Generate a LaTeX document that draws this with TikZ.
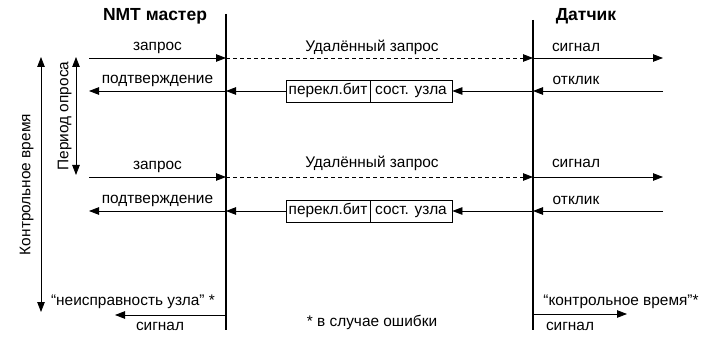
\documentclass[tikz,border=0pt]{standalone}
\usepackage{fontspec}
\setmainfont{Liberation Sans}
\usetikzlibrary{arrows.meta,positioning}

\begin{document}
\begin{tikzpicture}[x=1pt,y=-1pt,
    every node/.style={font=\fontsize{15.4}{17}\selectfont, inner sep=1pt},
    msg/.style={line width=0.8pt,-{Triangle[length=10pt,width=7.5pt]}},
    remote/.style={msg,dash pattern=on 4pt off 3pt},
    span/.style={line width=0.8pt,{Triangle[length=10pt,width=7.5pt]}-{Triangle[length=10pt,width=7.5pt]}},
    life/.style={line width=2.4pt},
    cell/.style={draw,line width=0.8pt,minimum height=22pt,inner sep=0pt,text height=11pt,text depth=3.5pt}]
    \useasboundingbox (0,0) rectangle (705,342);
    \def\xm{226}
    \def\xs{533}
    % lifelines
    \coordinate (m0) at (\xm,14);
    \coordinate (m1) at (\xm,330);
    \coordinate (s0) at (\xs,20);
    \coordinate (s1) at (\xs,330);
    \draw[life] (m0) -- (m1);
    \draw[life] (s0) -- (s1);
    \node[font=\fontsize{17.5}{19}\selectfont\bfseries] (master) at (155,16) {NMT мастер};
    \node[font=\fontsize{17.5}{19}\selectfont\bfseries] (sensor) at (586,16) {Датчик};
    % first cycle
    \coordinate (a1) at (89,58);
    \coordinate (a2) at (\xm,58);
    \coordinate (a3) at (\xs,58);
    \coordinate (a4) at (663,58);
    \draw[msg] (a1) -- (a2) node[midway,above=3pt]{запрос};
    \draw[remote] (a2) -- (a3);
    \node (r1) at (372,47) {Удалённый запрос};
    \draw[msg] (a3) -- (a4);
    \node (g1) at (576,47) {сигнал};
    \coordinate (b1) at (89,91);
    \coordinate (b2) at (\xm,91);
    \coordinate (b3) at (\xs,91);
    \coordinate (b4) at (663,91);
    \node[cell,minimum width=84pt] (t1) at (328,91) {перекл.бит};
    \node[cell,minimum width=82pt] (n1) at (411,91) {сост. узла};
    \draw[msg] (b4) -- (b3);
    \node (k1) at (576,80) {отклик};
    \draw[msg] (b3) -- (n1.east);
    \draw[msg] (t1.west) -- (b2);
    \draw[msg] (b2) -- (b1) node[midway,above=3pt]{подтверждение};
    % second cycle
    \coordinate (c1) at (89,177);
    \coordinate (c2) at (\xm,177);
    \coordinate (c3) at (\xs,177);
    \coordinate (c4) at (663,177);
    \draw[msg] (c1) -- (c2) node[midway,above=3pt]{запрос};
    \draw[remote] (c2) -- (c3);
    \node (r2) at (372,163) {Удалённый запрос};
    \draw[msg] (c3) -- (c4);
    \node (g2) at (576,163) {сигнал};
    \coordinate (d1) at (89,211);
    \coordinate (d2) at (\xm,211);
    \coordinate (d3) at (\xs,211);
    \coordinate (d4) at (663,211);
    \node[cell,minimum width=84pt] (t2) at (328,211) {перекл.бит};
    \node[cell,minimum width=82pt] (n2) at (411,211) {сост. узла};
    \draw[msg] (d4) -- (d3);
    \node (k2) at (576,200) {отклик};
    \draw[msg] (d3) -- (n2.east);
    \draw[msg] (t2.west) -- (d2);
    \draw[msg] (d2) -- (d1) node[midway,above=3pt]{подтверждение};
    % time spans
    \coordinate (p0) at (76,57);
    \coordinate (p1) at (76,175);
    \draw[span] (p0) -- (p1) node[midway,left=3pt,rotate=90,anchor=south]{Период опроса};
    \coordinate (w0) at (41,57);
    \coordinate (w1) at (41,312);
    \draw[span] (w0) -- (w1) node[midway,rotate=90,anchor=south,yshift=6pt]{Контрольное время};
    % error case
    \coordinate (e0) at (\xm,315);
    \coordinate (e1) at (115,315);
    \draw[msg] (e0) -- (e1);
    \node (f1) at (133,302) {“неисправность узла” *};
    \node (f2) at (160,326) {сигнал};
    \coordinate (h0) at (\xs,314);
    \coordinate (h1) at (627,314);
    \draw[msg] (h0) -- (h1);
    \node (f3) at (621,302) {“контрольное время”*};
    \node (f4) at (570,326) {сигнал};
    \node (note) at (372,322) {* в случае ошибки};
\end{tikzpicture}
\end{document}
